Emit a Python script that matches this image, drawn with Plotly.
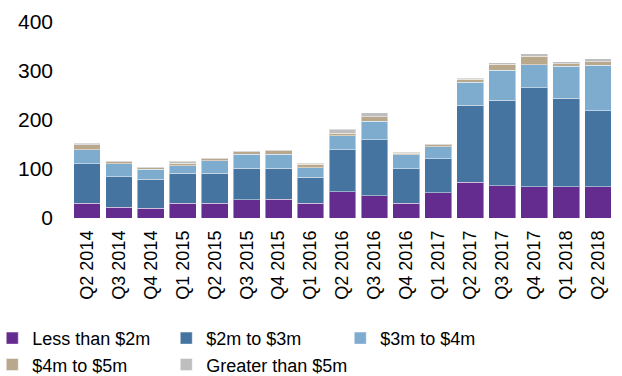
import plotly.graph_objects as go

quarters = ["Q2 2014", "Q3 2014", "Q4 2014", "Q1 2015", "Q2 2015", "Q3 2015", "Q4 2015",
            "Q1 2016", "Q2 2016", "Q3 2016", "Q4 2016", "Q1 2017", "Q2 2017", "Q3 2017",
            "Q4 2017", "Q1 2018", "Q2 2018"]

less_2m = [30, 22, 20, 30, 30, 37, 38.5, 30, 54, 45, 30, 52, 73, 66, 64, 64, 64]
m2_3 = [80.5, 62.5, 59, 61.5, 61.5, 65, 63, 53.5, 85.5, 115, 71, 68.5, 157.5, 174, 201.5, 180.5, 154.5]
m3_4 = [29, 26, 21, 15, 25, 28, 29, 19, 28.5, 37.5, 28.5, 24.5, 46.5, 61.5, 47.5, 65.5, 93]
m4_5 = [9.5, 4, 2.5, 5.5, 4.5, 5, 6.5, 7, 5, 9.5, 3, 4, 6.5, 12.5, 17.5, 5, 7]
gt_5m = [4, 2, 1.5, 4, 1.5, 2, 2, 2, 8, 8, 1.5, 2, 1.5, 3, 5, 4, 6.5]

series = [
    ("Less than $2m", less_2m, "#652C8F"),
    ("$2m to $3m", m2_3, "#4674A1"),
    ("$3m to $4m", m3_4, "#7EACCF"),
    ("$4m to $5m", m4_5, "#BAA88C"),
    ("Greater than $5m", gt_5m, "#BEBEBE"),
]

fig = go.Figure()
for name, vals, col in series:
    fig.add_trace(go.Bar(
        x=quarters, y=vals, name=name,
        marker=dict(color=col, line=dict(color="rgba(255,255,255,0.45)", width=1)),
    ))

fig.update_layout(
    barmode="stack",
    bargap=0.16,
    width=622, height=376,
    margin=dict(l=70.5, r=8, t=21.7, b=157.7, autoexpand=False),
    paper_bgcolor="white", plot_bgcolor="white",
    font=dict(family="Liberation Sans, Arial, sans-serif", color="#000000", size=18),
    showlegend=True,
    legend=dict(
        orientation="h",
        x=-0.145, xanchor="left",
        y=-0.52, yanchor="top",
        font=dict(size=18),
        entrywidth=129, entrywidthmode="pixels",
        itemwidth=30,
        traceorder="normal",
        bgcolor="rgba(0,0,0,0)",
    ),
)
fig.update_xaxes(
    tickangle=-90, tickfont=dict(size=18), showline=False, showgrid=False,
    ticks="", ticklabelstandoff=8, automargin=False,
)
fig.update_yaxes(
    range=[0, 400], tickvals=[0, 100, 200, 300, 400], tickfont=dict(size=21),
    showgrid=False, showline=False, zeroline=False, ticks="", ticklabelstandoff=17,
    automargin=False,
)

fig.write_html("out.html")
